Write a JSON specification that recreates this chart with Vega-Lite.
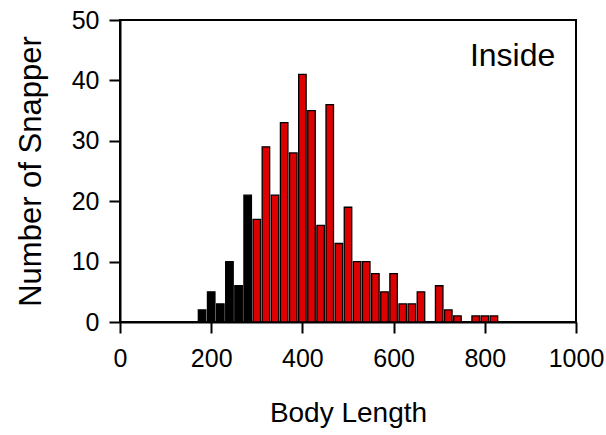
{
  "$schema": "https://vega.github.io/schema/vega-lite/v6.json",
  "autosize": "none",
  "width": 456,
  "height": 302,
  "padding": {"left": 120, "top": 20, "right": 30, "bottom": 113},
  "background": "white",
  "config": {
    "view": {"stroke": "black", "strokeWidth": 2},
    "font": "Liberation Sans"
  },
  "layer": [
    {
      "data": {
        "values": [
          {"length": 180, "count": 2, "group": "small"},
          {"length": 200, "count": 5, "group": "small"},
          {"length": 220, "count": 3, "group": "small"},
          {"length": 240, "count": 10, "group": "small"},
          {"length": 260, "count": 6, "group": "small"},
          {"length": 280, "count": 21, "group": "small"},
          {"length": 300, "count": 17, "group": "large"},
          {"length": 320, "count": 29, "group": "large"},
          {"length": 340, "count": 21, "group": "large"},
          {"length": 360, "count": 33, "group": "large"},
          {"length": 380, "count": 28, "group": "large"},
          {"length": 400, "count": 41, "group": "large"},
          {"length": 420, "count": 35, "group": "large"},
          {"length": 440, "count": 16, "group": "large"},
          {"length": 460, "count": 36, "group": "large"},
          {"length": 480, "count": 13, "group": "large"},
          {"length": 500, "count": 19, "group": "large"},
          {"length": 520, "count": 10, "group": "large"},
          {"length": 540, "count": 10, "group": "large"},
          {"length": 560, "count": 8, "group": "large"},
          {"length": 580, "count": 5, "group": "large"},
          {"length": 600, "count": 8, "group": "large"},
          {"length": 620, "count": 3, "group": "large"},
          {"length": 640, "count": 3, "group": "large"},
          {"length": 660, "count": 5, "group": "large"},
          {"length": 700, "count": 6, "group": "large"},
          {"length": 720, "count": 2, "group": "large"},
          {"length": 740, "count": 1, "group": "large"},
          {"length": 780, "count": 1, "group": "large"},
          {"length": 800, "count": 1, "group": "large"},
          {"length": 820, "count": 1, "group": "large"}
        ]
      },
      "mark": {"type": "bar", "size": 7.5, "stroke": "black", "strokeWidth": 1.3},
      "encoding": {
        "x": {
          "field": "length",
          "type": "quantitative",
          "scale": {"domain": [0, 1000], "nice": false, "padding": 0},
          "axis": {
            "title": "Body Length",
            "values": [0, 200, 400, 600, 800, 1000],
            "format": "d",
            "grid": false,
            "domainColor": "black",
            "domainWidth": 2,
            "tickColor": "black",
            "tickWidth": 2,
            "tickSize": 11,
            "labelFontSize": 25,
            "labelColor": "black",
            "labelPadding": 13,
            "labelFlush": false,
            "titleFontSize": 28,
            "titleFontWeight": "normal",
            "titleColor": "black",
            "titlePadding": 28
          }
        },
        "y": {
          "field": "count",
          "type": "quantitative",
          "scale": {"domain": [0, 50], "nice": false, "padding": 0},
          "axis": {
            "title": "Number of Snapper",
            "values": [0, 10, 20, 30, 40, 50],
            "grid": false,
            "domainColor": "black",
            "domainWidth": 2,
            "tickColor": "black",
            "tickWidth": 2,
            "tickSize": 11,
            "labelFontSize": 25,
            "labelColor": "black",
            "labelPadding": 10,
            "labelFlush": false,
            "titleFontSize": 31,
            "titleFontWeight": "normal",
            "titleColor": "black",
            "titlePadding": 24
          }
        },
        "fill": {
          "field": "group",
          "type": "nominal",
          "scale": {"domain": ["small", "large"], "range": ["#000000", "#dd0000"]},
          "legend": null
        }
      }
    },
    {
      "data": {"values": [{"label": "Inside", "lx": 861, "ly": 44}]},
      "mark": {"type": "text", "fontSize": 32, "color": "black", "align": "center", "baseline": "middle"},
      "encoding": {
        "x": {"field": "lx", "type": "quantitative"},
        "y": {"field": "ly", "type": "quantitative"},
        "text": {"field": "label"}
      }
    }
  ]
}
